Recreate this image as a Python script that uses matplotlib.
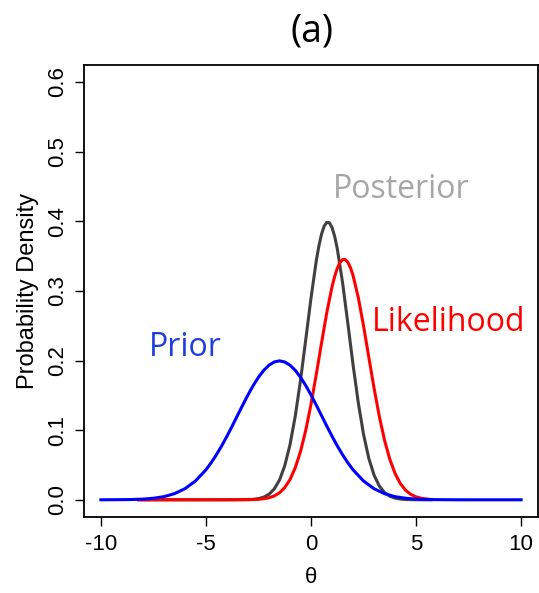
import numpy as np
import matplotlib.pyplot as plt

# values
prior_x = [-10, -9.5, -9, -8.5, -8, -7.5, -7, -6.5, -6, -5.5, -5, -4.75, -4.5, -4.25, -4,
           -3.75, -3.5, -3.25, -3, -2.75, -2.5, -2.25, -2, -1.75, -1.5, -1.25, -1, -0.75,
           -0.5, -0.25, 0, 0.25, 0.5, 0.75, 1, 1.25, 1.5, 1.75, 2, 2.5, 3, 3.5, 4, 4.5, 5,
           5.5, 6, 6.5, 7, 8, 9, 10]
prior_y = [0.0, 0.0001, 0.0002, 0.0004, 0.0010, 0.0022, 0.0045, 0.0088, 0.0159, 0.0270,
           0.0431, 0.0533, 0.0648, 0.0775, 0.0913, 0.1059, 0.1210, 0.1360, 0.1506, 0.1641,
           0.1760, 0.1859, 0.1933, 0.1979, 0.1995, 0.1979, 0.1933, 0.1859, 0.1760, 0.1641,
           0.1506, 0.1360, 0.1210, 0.1059, 0.0913, 0.0775, 0.0648, 0.0533, 0.0431, 0.0270,
           0.0159, 0.0088, 0.0045, 0.0022, 0.0010, 0.0004, 0.0002, 0.0001, 0.0, 0.0, 0.0, 0.0]

post_x = [-8.2, -4, -3, -2.75, -2.5, -2.25, -2, -1.75, -1.5, -1.25, -1, -0.75, -0.5, -0.25,
          0, 0.25, 0.375, 0.5, 0.625, 0.75, 0.875, 1, 1.125, 1.25, 1.5, 1.75, 2, 2.25, 2.5,
          2.75, 3, 3.25, 3.5, 3.75, 4, 4.25, 4.5, 4.75, 5, 5.7]
post_y = [0.0, 0.0, 0.0003, 0.0007, 0.0017, 0.0038, 0.0079, 0.0155, 0.0283, 0.0488, 0.0790,
          0.1200, 0.1714, 0.2300, 0.2897, 0.3430, 0.3645, 0.3814, 0.3929, 0.3984, 0.3978,
          0.3910, 0.3784, 0.3606, 0.3123, 0.2541, 0.1942, 0.1395, 0.0940, 0.0596, 0.0355,
          0.0198, 0.0104, 0.0051, 0.0024, 0.0010, 0.0004, 0.0002, 0.0001, 0.0]

lik_x = [-8.2, -3, -2.5, -2.25, -2, -1.75, -1.5, -1.25, -1, -0.75, -0.5, -0.25, 0, 0.25,
         0.5, 0.75, 1, 1.125, 1.25, 1.375, 1.5, 1.625, 1.75, 1.875, 2, 2.25, 2.5, 2.75, 3,
         3.25, 3.5, 3.75, 4, 4.25, 4.5, 4.75, 5, 5.25, 5.5, 5.7]
lik_y = [0.0, 0.0001, 0.0007, 0.0015, 0.0029, 0.0055, 0.0101, 0.0175, 0.0290, 0.0460,
         0.0693, 0.0998, 0.1371, 0.1798, 0.2249, 0.2685, 0.3058, 0.3207, 0.3324, 0.3405,
         0.3448, 0.3450, 0.3412, 0.3336, 0.3223, 0.2904, 0.2498, 0.2050, 0.1605, 0.1199,
         0.0855, 0.0582, 0.0378, 0.0234, 0.0138, 0.0078, 0.0042, 0.0022, 0.0011, 0.0005]

xticks = [-10, -5, 0, 5, 10]
yticks = [0.0, 0.1, 0.2, 0.3, 0.4, 0.5, 0.6]


def main():
    plt.rcParams["font.family"] = ["Liberation Sans", "DejaVu Sans"]
    fig = plt.figure(figsize=(5.39, 5.93), dpi=100)
    ax = fig.add_axes([0.156, 0.129, 0.842, 0.761])

    ax.plot(post_x, post_y, color="#404040", lw=2.2)
    ax.plot(lik_x, lik_y, color="#ff0000", lw=2.2)
    ax.plot(prior_x, prior_y, color="#0000ff", lw=2.2)

    ax.set_xlim(-10.8, 10.8)
    ax.set_ylim(-0.024, 0.624)
    ax.set_xticks(xticks)
    ax.set_xticklabels(["%d" % t for t in xticks])
    ax.set_yticks(yticks)
    ax.set_yticklabels(["%.1f" % t for t in yticks], rotation=90, va="center")
    ax.tick_params(direction="out", length=6.5, width=1.0, labelsize=16, pad=6)
    ax.tick_params(axis="y", pad=5)
    for s in ax.spines.values():
        s.set_linewidth(1.3)

    ax.set_xlabel("θ", fontsize=16, labelpad=9)
    ax.set_ylabel("Probability Density", fontsize=17, labelpad=6)

    tf = ["Open Sans", "DejaVu Sans"]
    ax.text(4.31, 0.445, "Posterior", color="#a6a6a6", fontsize=23, family=tf,
            ha="center", va="center")
    ax.text(6.54, 0.254, "Likelihood", color="#ff0000", fontsize=23, family=tf,
            ha="center", va="center")
    ax.text(-6.0, 0.218, "Prior", color="#1f3fdc", fontsize=23, family=tf,
            ha="center", va="center")
    fig.text(0.579, 0.947, "(a)", fontsize=27, family=tf, ha="center", va="center")

    fig.savefig("out.png", dpi=100)
    plt.close()


if __name__ == "__main__":
    main()
